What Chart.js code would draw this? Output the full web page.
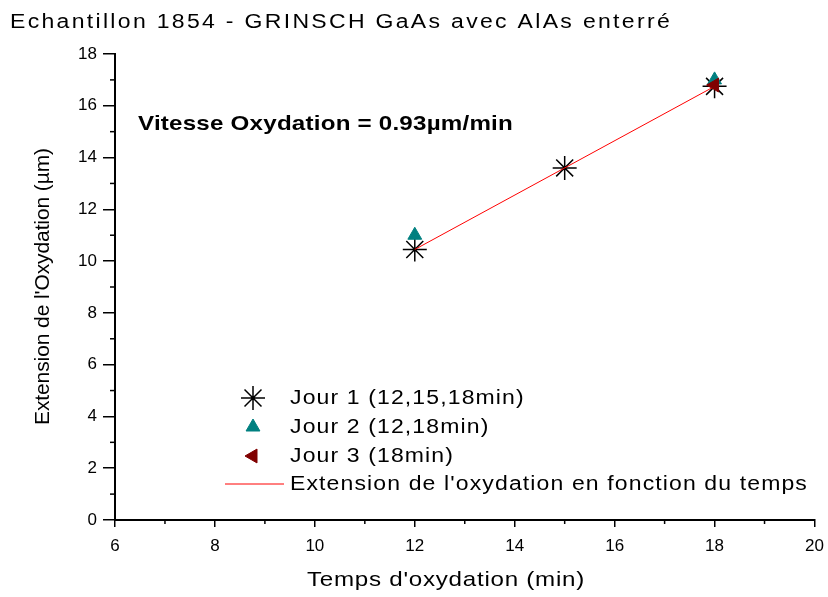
<!DOCTYPE html>
<html lang="fr">
<head>
  <meta charset="UTF-8">
  <title>Echantillon 1854 - GRINSCH GaAs avec AlAs enterré</title>
  <script src="https://cdn.jsdelivr.net/npm/chart.js"></script>
  <style>
    body {
      margin: 0;
      padding: 0;
      background-color: #fff;
    }
    #wrap {
      width: 828px;
      height: 597px;
    }
  </style>
</head>
<body>
  <div id="wrap">
    <canvas id="oxChart" width="828" height="597"></canvas>
  </div>

  <script>
    // Mesures (temps en min, extension en µm)
    const jour1Temps = [12, 15, 18];
    const jour1Ext = [10.45, 13.6, 16.75];
    const jour2Temps = [12, 18];
    const jour2Ext = [11.0, 17.0];
    const jour3Temps = [18];
    const jour3Ext = [16.8];
    // Droite d'ajustement
    const fitTemps = [12, 18];
    const fitExt = [10.45, 16.75];

    const titre = 'Echantillon 1854 - GRINSCH GaAs avec AlAs enterré';
    const annotation = 'Vitesse Oxydation = 0.93µm/min';
    const titreX = "Temps d'oxydation (min)";
    const titreY = "Extension de l'Oxydation (µm)";
    const legendeLabels = ['Jour 1 (12,15,18min)', 'Jour 2 (12,18min)', 'Jour 3 (18min)', "Extension de l'oxydation en fonction du temps"];

    const FONT = "'Liberation Sans', Arial, sans-serif";
    const STRETCH = 1.15;

    const toXY = (xs, ys) => xs.map((x, i) => ({ x: x, y: ys[i] }));

    // texte élargi + espacé pour tenir dans une largeur donnée
    function spacing(ctx, text, width) {
      ctx.letterSpacing = '0px';
      const w0 = ctx.measureText(text).width;
      return (width / STRETCH - w0) / text.length;
    }
    function wideText(ctx, text, x, y, ls) {
      ctx.save();
      ctx.translate(x, y);
      ctx.scale(STRETCH, 1);
      ctx.letterSpacing = ls + 'px';
      ctx.fillText(text, 0, 0);
      ctx.restore();
    }
    function fitText(ctx, text, x, y, width) {
      wideText(ctx, text, x, y, spacing(ctx, text, width));
    }

    // Petites graduations, titres, annotation et légende
    const decorPlugin = {
      id: 'decor',
      afterDraw(chart) {
        const ctx = chart.ctx;
        const xs = chart.scales.x, ys = chart.scales.y;
        const area = chart.chartArea;
        ctx.save();
        ctx.strokeStyle = '#000';
        ctx.lineWidth = 1.5;
        for (let v = 7; v < 20; v += 2) {
          const px = xs.getPixelForValue(v);
          ctx.beginPath();
          ctx.moveTo(px, area.bottom);
          ctx.lineTo(px, area.bottom + 4);
          ctx.stroke();
        }
        for (let v = 1; v < 18; v += 2) {
          const py = ys.getPixelForValue(v);
          ctx.beginPath();
          ctx.moveTo(area.left, py);
          ctx.lineTo(area.left - 5, py);
          ctx.stroke();
        }

        ctx.fillStyle = '#000';
        ctx.textBaseline = 'middle';
        ctx.textAlign = 'left';
        ctx.font = '20px ' + FONT;
        fitText(ctx, titre, 10, 22, 662);

        ctx.font = 'bold 21px ' + FONT;
        fitText(ctx, annotation, 138, 124, 375);

        ctx.font = '21px ' + FONT;
        fitText(ctx, titreX, 307, 580, 278);

        ctx.save();
        ctx.translate(43, 425);
        ctx.rotate(-Math.PI / 2);
        ctx.font = '21px ' + FONT;
        ctx.letterSpacing = '0px';
        const wy = ctx.measureText(titreY).width;
        ctx.letterSpacing = ((277 - wy) / titreY.length) + 'px';
        ctx.fillText(titreY, 0, 0);
        ctx.restore();

        // légende
        ctx.font = '20px ' + FONT;
        const ls = spacing(ctx, legendeLabels[3], 518);
        const rows = [398, 427, 456, 484];
        const symX = 253, txtX = 290;
        chart.data.datasets.forEach((ds, i) => {
          const y = rows[i];
          ctx.strokeStyle = ds.borderColor;
          ctx.fillStyle = ds.backgroundColor;
          if (ds.showLine) {
            ctx.lineWidth = 1;
            ctx.beginPath();
            ctx.moveTo(225, y);
            ctx.lineTo(284, y);
            ctx.stroke();
          } else {
            ctx.lineWidth = ds.borderWidth;
            Chart.helpers.drawPoint(ctx, {
              pointStyle: ds.pointStyle,
              rotation: ds.pointRotation || 0,
              radius: ds.legendRadius,
              borderWidth: ds.borderWidth
            }, symX, y);
          }
          ctx.fillStyle = '#000';
          wideText(ctx, legendeLabels[i], txtX, y, ls);
        });
        ctx.restore();
      }
    };

    const chart = new Chart(document.getElementById('oxChart').getContext('2d'), {
      type: 'scatter',
      data: {
        datasets: [
          {
            label: legendeLabels[0],
            data: toXY(jour1Temps, jour1Ext),
            pointStyle: 'star',
            pointRadius: 12,
            legendRadius: 12,
            borderColor: '#000',
            backgroundColor: '#000',
            borderWidth: 1.5,
            order: 3
          },
          {
            label: legendeLabels[1],
            data: toXY(jour2Temps, jour2Ext),
            pointStyle: 'triangle',
            pointRadius: 8,
            legendRadius: 8,
            borderColor: '#008080',
            backgroundColor: '#008080',
            borderWidth: 1,
            order: 1
          },
          {
            label: legendeLabels[2],
            data: toXY(jour3Temps, jour3Ext),
            pointStyle: 'triangle',
            pointRotation: -90,
            pointRadius: 8,
            legendRadius: 8,
            borderColor: '#800000',
            backgroundColor: '#800000',
            borderWidth: 1,
            order: 0
          },
          {
            label: legendeLabels[3],
            data: toXY(fitTemps, fitExt),
            showLine: true,
            pointRadius: 0,
            borderColor: '#ff0000',
            backgroundColor: '#ff0000',
            borderWidth: 1,
            order: 2
          }
        ]
      },
      options: {
        responsive: false,
        animation: false,
        layout: { padding: { left: 0, top: 54, right: 13, bottom: 0 } },
        plugins: {
          legend: { display: false },
          tooltip: { enabled: false }
        },
        scales: {
          x: {
            type: 'linear',
            min: 6,
            max: 20,
            afterFit(scale) {
              scale.height = 77;
              scale.paddingLeft = 0;
              scale.paddingRight = 0;
            },
            ticks: { stepSize: 2, color: '#000', padding: 9, font: { family: FONT, size: 17 } },
            grid: { display: true, drawOnChartArea: false, drawTicks: true, tickLength: 7, color: '#000', lineWidth: 1.5 },
            border: { display: true, color: '#000', width: 2 }
          },
          y: {
            type: 'linear',
            min: 0,
            max: 18,
            afterFit(scale) {
              scale.width = 115;
              scale.paddingTop = 0;
              scale.paddingBottom = 0;
            },
            ticks: { stepSize: 2, color: '#000', padding: 6, font: { family: FONT, size: 17 } },
            grid: { display: true, drawOnChartArea: false, drawTicks: true, tickLength: 12, color: '#000', lineWidth: 1.5 },
            border: { display: true, color: '#000', width: 2 }
          }
        }
      },
      plugins: [decorPlugin]
    });
  </script>
</body>
</html>
